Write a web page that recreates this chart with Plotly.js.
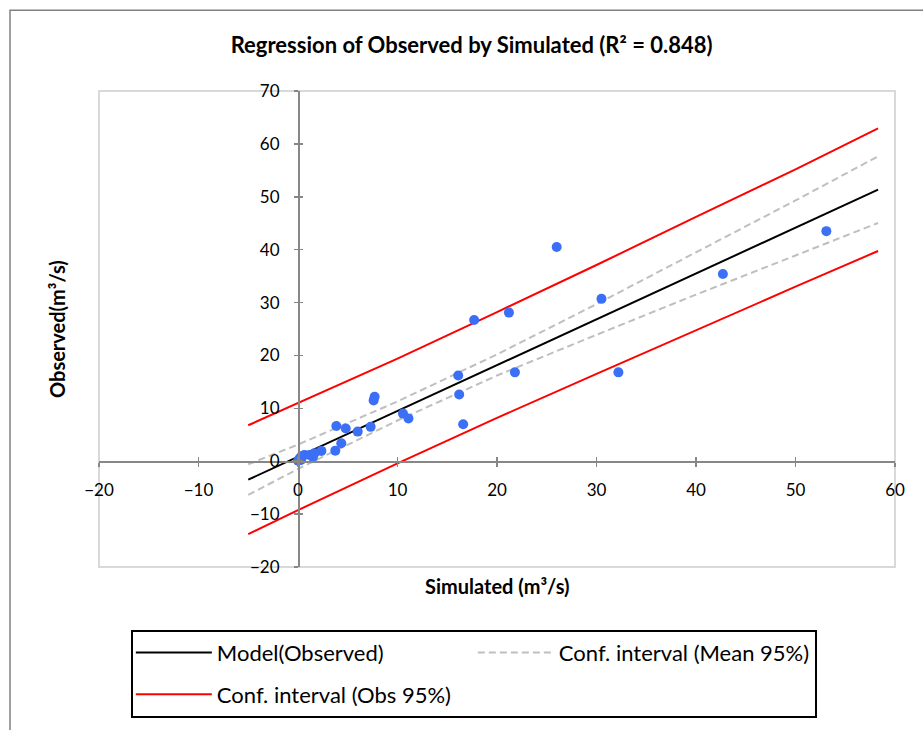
<!DOCTYPE html>
<html>
<head>
<meta charset="utf-8">
<script src="https://cdn.plot.ly/plotly-3.0.1.min.js"></script>
<style>html,body{margin:0;padding:0;background:#fff;}#chart{width:923px;height:730px;}</style>
</head>
<body>
<div id="chart"></div>
<script>
// Observed vs simulated points (m3/s)
var simulated = [53.1, 42.7, 30.5, 26.0, 21.2, 17.7, 21.8, 32.2, 16.1, 16.2, 16.6, 7.7, 7.6, 10.55, 11.1, 3.85, 4.8, 6.0, 7.3, 4.35, 3.75, 2.35, 1.5, 0.65, 0.3, 0.15, 0.32, 1.16, 1.66, 0.0];
var observed  = [43.5, 35.4, 30.7, 40.5, 28.1, 26.7, 16.8, 16.8, 16.2, 12.6, 7.0, 12.2, 11.5, 9.0, 8.1, 6.65, 6.2, 5.6, 6.5, 3.4, 2.0, 1.95, 0.75, 1.2, 0.25, 0.45, 0.9, 1.2, 1.5, 0.1];

// Regression line and confidence bands, read at these x positions
var lineX      = [-5, 0, 10, 20, 30, 40, 50, 58.3];
var modelY     = [-3.48, 0.85, 9.5, 18.2, 26.8, 35.5, 44.1, 51.35];
var meanUpperY = [-0.58, 3.15, 11.3, 20.2, 29.7, 39.5, 49.3, 57.65];
var meanLowerY = [-6.38, -1.45, 7.7, 16.2, 23.9, 31.5, 38.9, 45.05];
var obsUpperY  = [6.8, 10.95, 19.4, 28.2, 37.1, 46.2, 55.2, 62.95];
var obsLowerY  = [-13.8, -9.25, -0.4, 8.2, 16.5, 24.8, 33.0, 39.75];

var seriesNames = ["Model(Observed)", "Conf. interval (Mean 95%)", "Conf. interval (Obs 95%)"];
var chartTitle = "Regression of Observed by Simulated (R² = 0.848)";
var xTitle = "Simulated (m³/s)";
var yTitle = "Observed(m³/s)";
var xTicks = [-20, -10, 0, 10, 20, 30, 40, 50, 60];
var yTicks = [-20, -10, 0, 10, 20, 30, 40, 50, 60, 70];

var FONT = "Lato, 'Open Sans', sans-serif";
var axisGray = "#878787";

var traces = [
  {x: lineX, y: modelY, mode: "lines", name: seriesNames[0], line: {color: "#000000", width: 2}, hoverinfo: "skip"},
  {x: lineX, y: meanUpperY, mode: "lines", name: seriesNames[1], legendgroup: "mean", line: {color: "#bfbfbf", width: 2, dash: "7px,4px"}, hoverinfo: "skip"},
  {x: lineX, y: meanLowerY, mode: "lines", name: seriesNames[1], legendgroup: "mean", showlegend: false, line: {color: "#bfbfbf", width: 2, dash: "7px,4px"}, hoverinfo: "skip"},
  {x: lineX, y: obsUpperY, mode: "lines", name: seriesNames[2], legendgroup: "obs", line: {color: "#ff0000", width: 2}, hoverinfo: "skip"},
  {x: lineX, y: obsLowerY, mode: "lines", name: seriesNames[2], legendgroup: "obs", showlegend: false, line: {color: "#ff0000", width: 2}, hoverinfo: "skip"},
  {x: simulated, y: observed, mode: "markers", name: "Observed", showlegend: false, marker: {color: "#3b6ff5", size: 10}},
  {x: [null], y: [null], xaxis: "x2", yaxis: "y2", mode: "markers", showlegend: false, hoverinfo: "skip"}
];

var xPos = (0 - (-20)) / (70 - (-20));
var yPos = (0 - (-20)) / (60 - (-20));

var layout = {
  width: 923, height: 730,
  margin: {l: 99, r: 28, t: 91, b: 161},
  paper_bgcolor: "#ffffff", plot_bgcolor: "#ffffff",
  font: {family: FONT, color: "#000000"},
  title: {text: "<b>" + chartTitle + "</b>", font: {family: FONT, size: 22, color: "#000000"}, xref: "container", x: 0.511, xanchor: "center", yref: "container", y: 0.938, yanchor: "middle"},
  xaxis: {range: [-20, 60], tickvals: xTicks, anchor: "free", position: xPos, showgrid: false, zeroline: false,
          showline: true, linecolor: axisGray, linewidth: 1.5, ticks: "outside", ticklen: 4, tickwidth: 1.5, tickcolor: axisGray,
          tickfont: {family: FONT, size: 17, color: "#000000"}, ticklabelstandoff: 9},
  yaxis: {range: [-20, 70], tickvals: yTicks, anchor: "free", position: yPos, showgrid: false, zeroline: false,
          showline: true, linecolor: axisGray, linewidth: 1.5, ticks: "outside", ticklen: 4, tickwidth: 1.5, tickcolor: axisGray,
          tickfont: {family: FONT, size: 17, color: "#000000"}, ticklabelstandoff: 11},
  xaxis2: {range: [-20, 60], tickvals: xTicks, overlaying: "x", anchor: "free", position: xPos, showgrid: false, zeroline: false,
          showline: false, ticks: "inside", ticklen: 4, tickwidth: 1.5, tickcolor: axisGray, showticklabels: false},
  yaxis2: {range: [-20, 70], tickvals: yTicks, overlaying: "y", anchor: "free", position: yPos, showgrid: false, zeroline: false,
          showline: false, ticks: "inside", ticklen: 4, tickwidth: 1.5, tickcolor: axisGray, showticklabels: false},
  shapes: [
    {type: "rect", xref: "paper", yref: "paper", x0: 0, x1: 1, y0: 0, y1: 1, line: {color: "#d9d9d9", width: 2}, layer: "below"},
    {type: "rect", xref: "paper", yref: "paper", x0: -0.1118, x1: 1.2, y0: -0.6, y1: 1.1695, line: {color: "#808080", width: 1.5}, layer: "below"}
  ],
  annotations: [
    {text: "<b>" + xTitle + "</b>", xref: "paper", yref: "paper", x: 0.5, y: -0.0397, xanchor: "center", yanchor: "middle", showarrow: false, font: {family: FONT, size: 20, color: "#000000"}},
    {text: "<b>" + yTitle + "</b>", xref: "paper", yref: "paper", x: -0.0528, y: 0.5, xanchor: "center", yanchor: "middle", textangle: -90, showarrow: false, font: {family: FONT, size: 20, color: "#000000"}}
  ],
  legend: {orientation: "h", x: 0.040, xanchor: "left", y: -0.1318, yanchor: "top", itemwidth: 76, entrywidth: 251, entrywidthmode: "pixels",
           bordercolor: "#000000", borderwidth: 2, bgcolor: "#ffffff", font: {family: FONT, size: 22, color: "#000000"}},
  showlegend: true
};

Plotly.newPlot("chart", traces, layout, {displayModeBar: false, staticPlot: true});
</script>
</body>
</html>
